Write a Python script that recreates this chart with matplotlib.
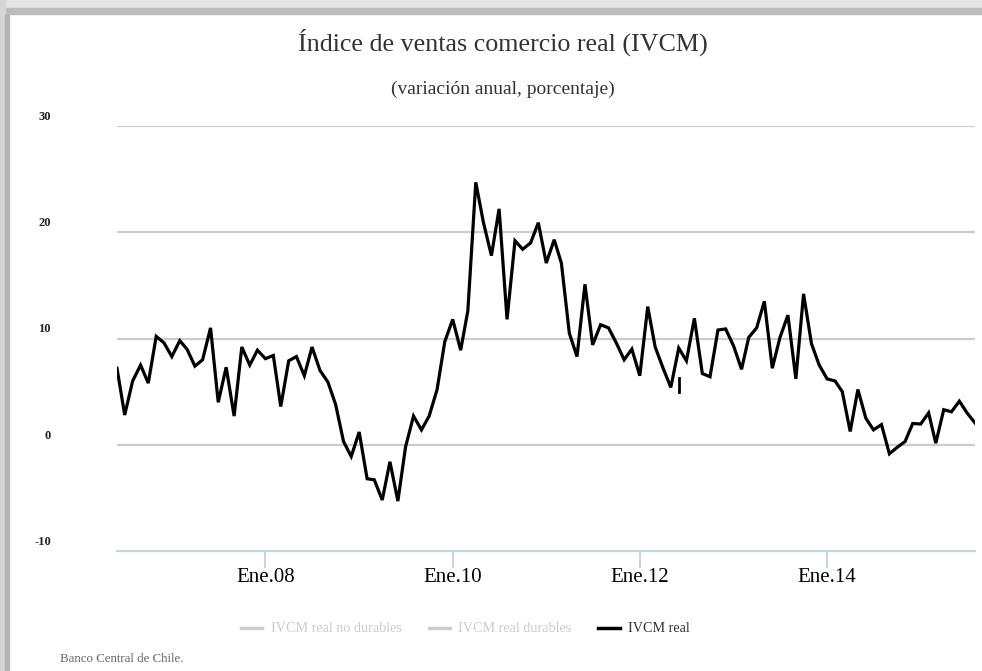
import pandas as pd
import matplotlib.pyplot as plt
from matplotlib.patches import Rectangle
from matplotlib.lines import Line2D

# IVCM real, annual variation (%), monthly from Jun 2006
start = "2006-06-01"
ivcm_real = [
    7.2, 2.8, 6.0, 7.5, 5.8, 10.2, 9.6, 8.3, 9.8, 9.0, 7.4, 8.0,
    11.0, 4.0, 7.3, 2.7, 9.2, 7.5, 8.9, 8.1, 8.4, 3.6, 7.9, 8.3,
    6.5, 9.2, 7.0, 5.9, 3.8, 0.3, -1.1, 1.2, -3.2, -3.3, -5.2, -1.6,
    -5.3, -0.2, 2.7, 1.4, 2.7, 5.2, 9.7, 11.8, 8.9, 12.6, 24.7, 20.9,
    17.8, 22.2, 11.8, 19.2, 18.4, 19.0, 20.9, 17.1, 19.3, 17.1, 10.5, 8.3,
    15.1, 9.4, 11.3, 11.0, 9.6, 8.0, 9.0, 6.5, 13.0, 9.2, 7.2, 5.4,
    9.1, 7.9, 11.9, 6.7, 6.4, 10.8, 10.9, 9.3, 7.1, 10.1, 11.0, 13.5,
    7.2, 10.1, 12.2, 6.2, 14.2, 9.5, 7.5, 6.2, 6.0, 5.0, 1.25, 5.2,
    2.5, 1.4, 1.9, -0.85, -0.25, 0.3, 2.0, 1.95, 3.0, 0.15, 3.3, 3.1,
    4.1, 3.0, 2.05,
]
# short stray segment in Jun 2012
stub_dates = ["2012-06-01", "2012-06-01"]
stub_values = [6.3, 5.0]

y_ticks = [-10, 0, 10, 20, 30]
x_tick_dates = ["2008-01-01", "2010-01-01", "2012-01-01", "2014-01-01"]
x_tick_labels = ["Ene.08", "Ene.10", "Ene.12", "Ene.14"]
legend_labels = ["IVCM real no durables", "IVCM real durables", "IVCM real"]

dates = pd.date_range(start, periods=len(ivcm_real), freq="MS")

plt.rcParams["font.family"] = ["Liberation Serif", "DejaVu Serif"]

fig = plt.figure(figsize=(9.82, 6.71), dpi=100)
W, H = 982, 671

# card shadow along top and left edges
fig.patches.append(Rectangle((0, 1 - 8 / H), 1, 8 / H, transform=fig.transFigure,
                             color="#e4e4e4", zorder=0))
fig.patches.append(Rectangle((0, 1 - 14 / H), 1, 6 / H, transform=fig.transFigure,
                             color="#bcbcbc", zorder=0))
fig.patches.append(Rectangle((0, 0), 5 / W, 1, transform=fig.transFigure,
                             color="#d6d6d6", zorder=0))
fig.patches.append(Rectangle((5 / W, 0), 4 / W, 1 - 14 / H, transform=fig.transFigure,
                             color="#b4b4b4", zorder=0))

ax = fig.add_axes([117 / W, 1 - 551 / H, (975 - 117) / W, (551 - 126) / H])
ax.set_facecolor("white")

for v in y_ticks[1:]:
    ax.axhline(v, color="#cccccc", lw=1.6, zorder=1)

ax.plot(dates, ivcm_real, color="black", lw=2.3, solid_joinstyle="miter", zorder=3)
ax.plot(pd.to_datetime(stub_dates), stub_values, color="black", lw=2.0, zorder=3)

ax.set_xlim(dates[0], dates[-1])
ax.set_ylim(-10, 30)

for s in ["top", "right", "left"]:
    ax.spines[s].set_visible(False)
ax.spines["bottom"].set_color("#c4d4e4")
ax.spines["bottom"].set_linewidth(1.6)

ax.set_yticks([])
ax.set_xticks(pd.to_datetime(x_tick_dates))
ax.set_xticklabels(x_tick_labels, fontsize=15)
ax.tick_params(axis="x", length=12, width=1.4, color="#c4d4e4", pad=0)

# y labels sit left of the plot, slightly above each line
for v in y_ticks:
    ax.annotate(str(v), xy=(0, v), xycoords=("axes fraction", "data"),
                xytext=(-66, 9), textcoords="offset pixels",
                ha="right", va="center", fontsize=9, fontweight="bold",
                color="#222222")

fig.text(0.512, 1 - 42 / H, "Índice de ventas comercio real (IVCM)",
         ha="center", va="center", fontsize=18.7, color="#333333")
fig.text(0.512, 1 - 89 / H, "(variación anual, porcentaje)",
         ha="center", va="center", fontsize=14, color="#333333")

handles = [Line2D([], [], color="#cccccc", lw=2.5),
           Line2D([], [], color="#cccccc", lw=2.5),
           Line2D([], [], color="black", lw=2.5)]
leg = fig.legend(handles, legend_labels, loc="center", ncol=3,
                 bbox_to_anchor=(0.474, 1 - 629 / H), frameon=False,
                 fontsize=10.2, handlelength=1.5, handletextpad=0.6,
                 columnspacing=1.9)
for txt, c in zip(leg.get_texts(), ["#cccccc", "#cccccc", "#333333"]):
    txt.set_color(c)

fig.text(60 / W, 1 - 659 / H, "Banco Central de Chile.", ha="left", va="center",
         fontsize=9.3, color="#666666")

fig.savefig("out.png", dpi=100, facecolor="white")
